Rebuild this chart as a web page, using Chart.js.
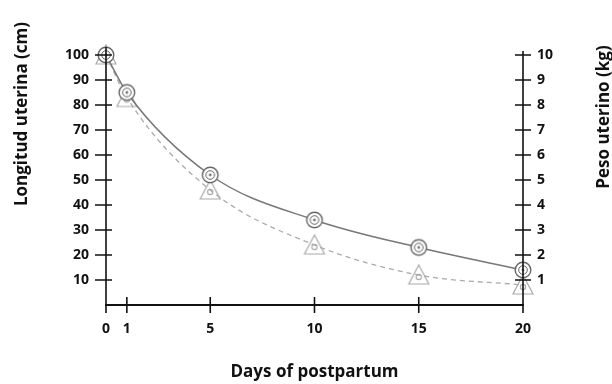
<!DOCTYPE html>
<html>
<head>
<meta charset="utf-8">
<script src="https://cdn.jsdelivr.net/npm/chart.js@4"></script>
<style>
  html, body { margin: 0; padding: 0; background: #fff; }
</style>
</head>
<body>
<canvas id="uteroChart" width="612" height="384"></canvas>
<script>
var days = [0, 1, 5, 10, 15, 20];
var longitudCm = [100, 85, 52, 34, 23, 14];
var pesoKg = [10, 8.3, 4.6, 2.4, 1.2, 0.8];
var dayTicks = [0, 1, 5, 10, 15, 20];

var FONT = "'Open Sans', 'DejaVu Sans', sans-serif";

// double ring marker with a dot in the middle
function ringMarker() {
  var c = document.createElement("canvas");
  c.width = 20; c.height = 20;
  var g = c.getContext("2d");
  g.strokeStyle = "#666";
  g.fillStyle = "#fff";
  g.lineWidth = 1.4;
  g.beginPath(); g.arc(10, 10, 7.8, 0, Math.PI * 2); g.fill(); g.stroke();
  g.lineWidth = 1;
  g.beginPath(); g.arc(10, 10, 4.3, 0, Math.PI * 2); g.stroke();
  g.fillStyle = "#777";
  g.beginPath(); g.arc(10, 10, 1.4, 0, Math.PI * 2); g.fill();
  return c;
}

// open triangle marker
function triMarker() {
  var c = document.createElement("canvas");
  c.width = 24; c.height = 24;
  var g = c.getContext("2d");
  g.strokeStyle = "#aaa";
  g.lineWidth = 1.2;
  g.beginPath();
  g.moveTo(12, 2); g.lineTo(22, 21); g.lineTo(2, 21); g.closePath();
  g.stroke();
  g.beginPath(); g.arc(12, 14, 2.6, 0, Math.PI * 2); g.stroke();
  return c;
}

function pts(ys) {
  return days.map(function (d, i) { return { x: d, y: ys[i] }; });
}

// tick marks that cross the axis line, plus the rotated side titles
var axisDecor = {
  id: "axisDecor",
  afterDraw: function (chart) {
    var ctx = chart.ctx;
    var sx = chart.scales.x, yl = chart.scales.y, yr = chart.scales.y1;
    ctx.save();
    ctx.strokeStyle = "#111";
    ctx.lineWidth = 1.6;
    ctx.beginPath();
    sx.ticks.forEach(function (t) {
      var px = sx.getPixelForValue(t.value);
      ctx.moveTo(px, sx.top - 8); ctx.lineTo(px, sx.top + 8);
    });
    yl.ticks.forEach(function (t) {
      if (t.value === 0) return;
      var py = yl.getPixelForValue(t.value);
      ctx.moveTo(yl.right - 11, py); ctx.lineTo(yl.right + 6, py);
    });
    yr.ticks.forEach(function (t) {
      if (t.value === 0) return;
      var py = yr.getPixelForValue(t.value);
      ctx.moveTo(yr.left - 8, py); ctx.lineTo(yr.left + 8, py);
    });
    // axis lines run a little past the top value
    ctx.moveTo(yl.right, yl.top - 8); ctx.lineTo(yl.right, yl.bottom + 8);
    ctx.moveTo(yr.left, yr.top - 4); ctx.lineTo(yr.left, yr.bottom + 8);
    ctx.stroke();

    ctx.fillStyle = "#111";
    ctx.font = "bold 17px " + FONT;
    ctx.textAlign = "center";
    ctx.textBaseline = "middle";
    ctx.translate(22, 114);
    ctx.rotate(-Math.PI / 2);
    ctx.fillText("Longitud uterina (cm)", 0, 0);
    ctx.restore();

    ctx.save();
    ctx.fillStyle = "#111";
    ctx.font = "bold 17px " + FONT;
    ctx.textAlign = "center";
    ctx.textBaseline = "middle";
    ctx.translate(604, 117);
    ctx.rotate(-Math.PI / 2);
    ctx.fillText("Peso uterino (kg)", 0, 0);
    ctx.restore();
  }
};

new Chart("uteroChart", {
  type: "line",
  data: {
    datasets: [{
      label: "Longitud uterina",
      data: pts(longitudCm),
      yAxisID: "y",
      borderColor: "#777",
      borderWidth: 1.5,
      cubicInterpolationMode: "monotone",
      pointStyle: ringMarker(),
      clip: false,
      fill: false
    }, {
      label: "Peso uterino",
      data: pts(pesoKg),
      yAxisID: "y1",
      borderColor: "#aaa",
      borderWidth: 1.3,
      borderDash: [5, 4],
      cubicInterpolationMode: "monotone",
      pointStyle: triMarker(),
      clip: false,
      fill: false
    }]
  },
  options: {
    responsive: false,
    animation: false,
    layout: { padding: { top: 55, left: 0, right: 0, bottom: 0 } },
    plugins: {
      legend: { display: false },
      tooltip: { enabled: false }
    },
    scales: {
      x: {
        type: "linear",
        min: 0,
        max: 20,
        afterBuildTicks: function (s) {
          s.ticks = dayTicks.map(function (v) { return { value: v }; });
        },
        afterFit: function (s) { s.height = 79; },
        grid: { display: false, drawTicks: false },
        border: { display: true, color: "#111", width: 2 },
        ticks: {
          padding: 16,
          color: "#111",
          font: { family: FONT, size: 14, weight: "bold" }
        },
        title: {
          display: true,
          text: "Days of postpartum",
          color: "#111",
          font: { family: FONT, size: 17, weight: "bold" },
          padding: { top: 0, bottom: 2 }
        }
      },
      y: {
        position: "left",
        min: 0,
        max: 100,
        afterFit: function (s) { s.width = 106; },
        grid: { display: false, drawTicks: false },
        border: { display: false },
        ticks: {
          stepSize: 10,
          padding: 17,
          color: "#111",
          font: { family: FONT, size: 14, weight: "bold" },
          callback: function (v) { return v === 0 ? "" : v; }
        }
      },
      y1: {
        position: "right",
        min: 0,
        max: 10,
        afterFit: function (s) { s.width = 89; },
        grid: { display: false, drawTicks: false },
        border: { display: false },
        ticks: {
          stepSize: 1,
          padding: 14,
          color: "#111",
          font: { family: FONT, size: 14, weight: "bold" },
          callback: function (v) { return v === 0 ? "" : v; }
        }
      }
    }
  },
  plugins: [axisDecor]
});
</script>
</body>
</html>
